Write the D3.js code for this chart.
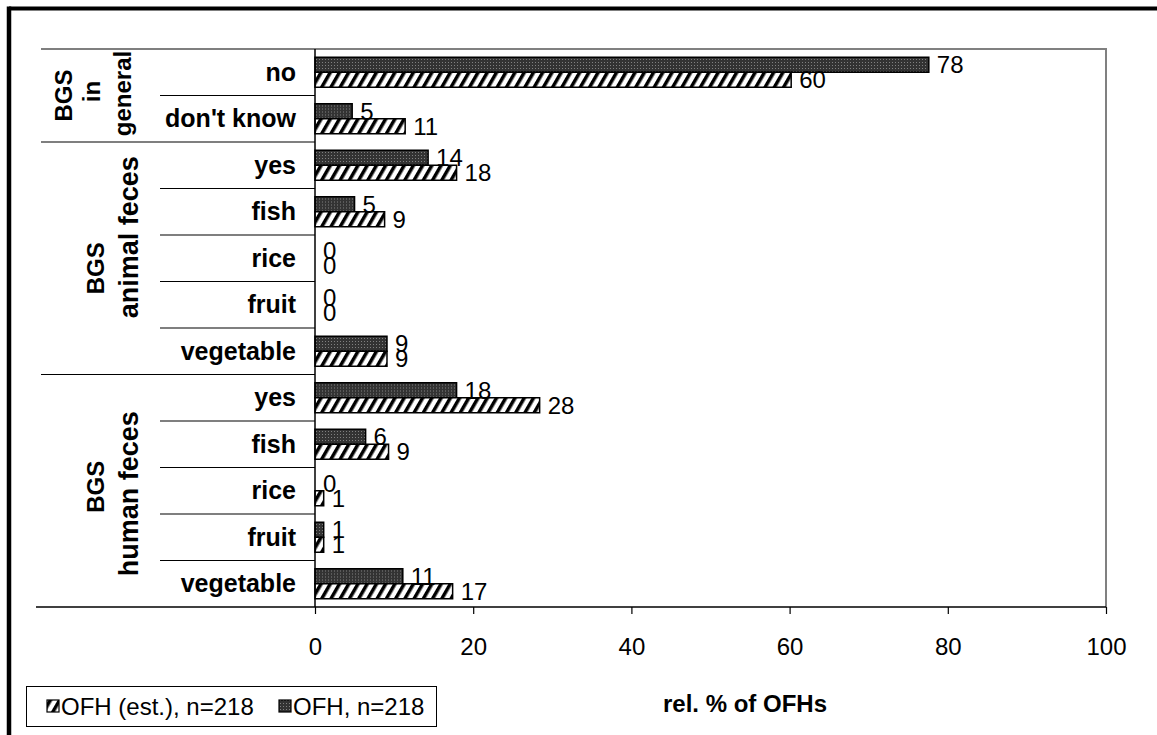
<!DOCTYPE html>
<html>
<head>
<meta charset="utf-8">
<script src="https://cdn.jsdelivr.net/npm/d3@7"></script>
<style>
  body { margin: 0; background: #fff; }
  svg { display: block; font-family: "Liberation Sans", Arial, sans-serif; }
</style>
</head>
<body>
<svg id="chart" width="1157" height="735"></svg>
<script>
// Data
const groupLines = [["BGS", "in", "general"], ["BGS", "animal feces"], ["BGS", "human feces"]];
const categories = ["no", "don't know", "yes", "fish", "rice", "fruit", "vegetable",
                    "yes", "fish", "rice", "fruit", "vegetable"];
const categoryGroup = [0, 0, 1, 1, 1, 1, 1, 2, 2, 2, 2, 2];
const seriesNames = ["OFH, n=218", "OFH (est.), n=218"];
const ofhValues    = [77.6, 4.7, 14.3, 5.0, 0, 0, 9.1, 17.9, 6.4, 0, 1.1, 11.1];
const ofhEstValues = [60.2, 11.4, 17.9, 8.8, 0, 0, 9.1, 28.4, 9.3, 1.1, 1.1, 17.4];
const xTicks = [0, 20, 40, 60, 80, 100];
const xTitle = "rel. % of OFHs";

const svg = d3.select("#chart");
const plot = { left: 315, right: 1106, top: 49, bottom: 607 };
const fontSize = 24;

// Patterns: dotted dark fill for OFH, diagonal hatch for OFH (est.)
const defs = svg.append("defs");
const dots = defs.append("pattern")
    .attr("id", "dots").attr("patternUnits", "userSpaceOnUse")
    .attr("width", 3).attr("height", 3);
dots.append("rect").attr("width", 3).attr("height", 3).attr("fill", "#333");
dots.append("rect").attr("x", 1).attr("y", 1).attr("width", 1).attr("height", 1).attr("fill", "#808080");

const hatch = defs.append("pattern")
    .attr("id", "hatch").attr("patternUnits", "userSpaceOnUse")
    .attr("width", 8).attr("height", 8)
    .attr("patternTransform", "rotate(30)");
hatch.append("rect").attr("width", 8).attr("height", 8).attr("fill", "#fff");
hatch.append("rect").attr("width", 3.5).attr("height", 8).attr("fill", "#000");

const fills = ["url(#dots)", "url(#hatch)"];

// Outer frame (only top and left edges are in view)
svg.append("line").attr("x1", 9).attr("x2", 1157).attr("y1", 8.5).attr("y2", 8.5)
    .attr("stroke", "#000").attr("stroke-width", 4);
svg.append("line").attr("x1", 9).attr("x2", 9).attr("y1", 6.5).attr("y2", 735)
    .attr("stroke", "#000").attr("stroke-width", 4.5);

// Scales
const x = d3.scaleLinear().domain([0, 100]).range([plot.left, plot.right]);
const y = d3.scaleBand().domain(d3.range(categories.length)).range([plot.top, plot.bottom]).padding(0);
const ySub = d3.scaleBand().domain([0, 1]).range([0, y.bandwidth()]).paddingInner(0).paddingOuter(0.55);

// Plot border (grey top and right)
svg.append("path")
    .attr("d", `M${plot.left},${plot.top}H${plot.right}V${plot.bottom}`)
    .attr("fill", "none").attr("stroke", "#808080").attr("stroke-width", 2);

// Row separators in the label table
const boundaries = d3.range(1, categories.length);
svg.append("g").selectAll("line")
    .data(boundaries)
    .join("line")
    .attr("x1", d => categoryGroup[d] !== categoryGroup[d - 1] ? 41 : 160)
    .attr("x2", plot.left)
    .attr("y1", d => y(d)).attr("y2", d => y(d))
    .attr("stroke", "#000").attr("stroke-width", 1.2);
svg.append("line").attr("x1", 41).attr("x2", plot.left)
    .attr("y1", plot.top).attr("y2", plot.top)
    .attr("stroke", "#000").attr("stroke-width", 1.2);

// Bars
const rows = categories.map((c, i) => ({ i, values: [ofhValues[i], ofhEstValues[i]] }));
const rowG = svg.append("g").selectAll("g")
    .data(rows)
    .join("g")
    .attr("transform", d => `translate(0,${y(d.i)})`);

rowG.selectAll("rect")
    .data(d => d.values.map((v, s) => ({ v, s })))
    .join("rect")
    .attr("x", x(0))
    .attr("y", d => ySub(d.s))
    .attr("width", d => x(d.v) - x(0))
    .attr("height", ySub.bandwidth())
    .attr("fill", d => fills[d.s])
    .attr("stroke", "#000")
    .attr("stroke-width", d => d.v > 0 ? 1.5 : 0);

rowG.selectAll("text")
    .data(d => d.values.map((v, s) => ({ v, s })))
    .join("text")
    .attr("x", d => x(d.v) + 8)
    .attr("y", d => ySub(d.s) + ySub.bandwidth() / 2 + 8.5)
    .attr("font-size", fontSize)
    .text(d => d3.format(".0f")(d.v));

// Category labels
svg.append("g").selectAll("text")
    .data(categories)
    .join("text")
    .attr("x", 296)
    .attr("y", (d, i) => y(i) + y.bandwidth() / 2 + 8.5)
    .attr("text-anchor", "end")
    .attr("font-size", 25)
    .attr("font-weight", "bold")
    .text(d => d);

// Group labels (rotated, one text per line)
const lineX = [[72, 100, 131], [104, 138], [104, 138]];
const lineDy = [[0, -4, -2], [10, -21], [-4, 3]];
const lineSize = [[24, 24, 24], [24, 27], [24, 27]];
groupLines.forEach((lines, g) => {
    const idx = categoryGroup.map((cg, i) => cg === g ? i : -1).filter(i => i >= 0);
    const top = y(idx[0]);
    const bottom = y(idx[idx.length - 1]) + y.bandwidth();
    const mid = (top + bottom) / 2;
    lines.forEach((t, k) => {
        svg.append("text")
            .attr("transform", `translate(${lineX[g][k]},${mid + lineDy[g][k]}) rotate(-90)`)
            .attr("text-anchor", "middle")
            .attr("font-size", lineSize[g][k])
            .attr("font-weight", "bold")
            .text(t);
    });
});

// Axes lines
svg.append("line").attr("x1", plot.left).attr("x2", plot.left)
    .attr("y1", plot.top).attr("y2", plot.bottom)
    .attr("stroke", "#000").attr("stroke-width", 1.5);
svg.append("line").attr("x1", 36).attr("x2", plot.right)
    .attr("y1", plot.bottom).attr("y2", plot.bottom)
    .attr("stroke", "#000").attr("stroke-width", 1.5);

// X axis ticks and labels
const xAxis = d3.axisBottom(x).tickValues(xTicks).tickSize(7).tickPadding(24).tickSizeOuter(0);
const xg = svg.append("g").attr("transform", `translate(0,${plot.bottom})`).call(xAxis);
xg.select(".domain").remove();
xg.selectAll(".tick line").attr("stroke", "#000").attr("stroke-width", 1.2);
xg.selectAll(".tick text")
    .attr("font-size", fontSize)
    .attr("font-family", "Liberation Sans, Arial, sans-serif")
    .attr("fill", "#000");

// Axis title
svg.append("text")
    .attr("x", 745).attr("y", 712)
    .attr("text-anchor", "middle")
    .attr("font-size", fontSize)
    .attr("font-weight", "bold")
    .text(xTitle);

// Legend
const legend = svg.append("g");
legend.append("rect")
    .attr("x", 26.5).attr("y", 686.5).attr("width", 410).attr("height", 40)
    .attr("fill", "#fff").attr("stroke", "#000").attr("stroke-width", 1);
const legendItems = [
    { name: seriesNames[1], fill: fills[1], x: 47 },
    { name: seriesNames[0], fill: fills[0], x: 279 }
];
const li = legend.selectAll("g.item").data(legendItems).join("g").attr("class", "item");
li.append("rect")
    .attr("x", d => d.x).attr("y", 700).attr("width", 12).attr("height", 12)
    .attr("fill", d => d.fill).attr("stroke", "#000").attr("stroke-width", 1.2);
li.append("text")
    .attr("x", d => d.x + 14).attr("y", 715)
    .attr("font-size", fontSize)
    .text(d => d.name);
</script>
</body>
</html>
